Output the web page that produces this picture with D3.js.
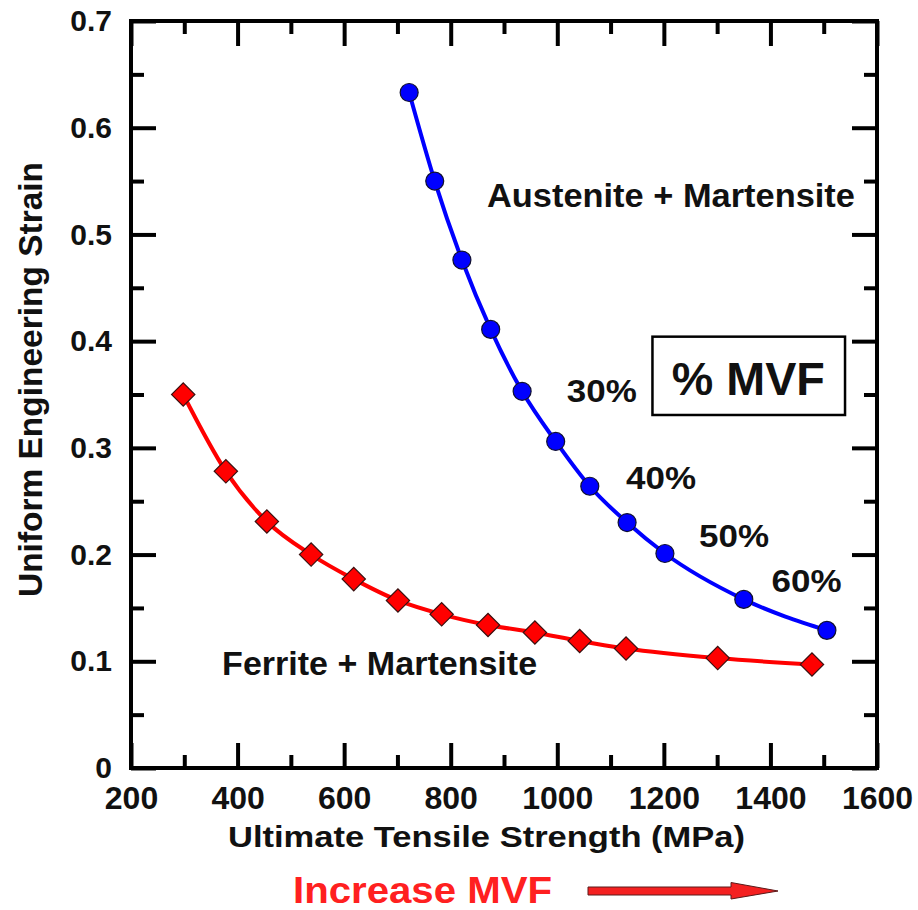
<!DOCTYPE html>
<html>
<head>
<meta charset="utf-8">
<script src="https://cdn.jsdelivr.net/npm/d3@7"></script>
<style>
  html, body { margin: 0; padding: 0; background: #fff; }
  svg { display: block; }
  text { font-family: "Liberation Sans", Arial, sans-serif; font-weight: bold; }
</style>
</head>
<body>
<svg id="chart" width="918" height="910"></svg>
<script>
// ---- data ----
const ferriteUTS    = [298, 378, 455, 538, 618, 701, 783, 870, 958, 1042, 1129, 1301, 1478];
const ferriteStrain = [0.350, 0.278, 0.231, 0.200, 0.177, 0.157, 0.144, 0.134, 0.127, 0.119, 0.112, 0.103, 0.097];
const austeniteUTS    = [722, 770, 821, 875, 934, 997, 1061, 1131, 1202, 1350, 1506];
const austeniteStrain = [0.633, 0.550, 0.476, 0.411, 0.353, 0.306, 0.264, 0.230, 0.201, 0.158, 0.129];
const xMajorTicks = [200, 400, 600, 800, 1000, 1200, 1400, 1600];
const xMinorTicks = [300, 500, 700, 900, 1100, 1300, 1500];
const yMajorTicks = [0, 0.1, 0.2, 0.3, 0.4, 0.5, 0.6, 0.7];
const yMinorTicks = [0.05, 0.15, 0.25, 0.35, 0.45, 0.55, 0.65];
const yTickLabels = ["0", "0.1", "0.2", "0.3", "0.4", "0.5", "0.6", "0.7"];
const pctLabels = ["30%", "40%", "50%", "60%"];
const pctX = [1018, 1129, 1266, 1402];
const pctY = [0.343, 0.261, 0.2074, 0.1652];

// ---- layout ----
const L = 131, R = 877, T = 21, B = 768;
const svg = d3.select("#chart");
const x = d3.scaleLinear().domain([200, 1600]).range([L, R]);
const y = d3.scaleLinear().domain([0, 0.7]).range([B, T]);

const MAJ = 25, MIN = 13;

function styleAxis(g) {
  g.select(".domain").remove();
  g.selectAll(".tick line").attr("stroke", "#000").attr("stroke-width", 4);
}

// bottom axis with labels
svg.append("g").attr("transform", `translate(0,${B})`)
  .call(d3.axisBottom(x).tickValues(xMajorTicks).tickSize(-MAJ).tickPadding(18).tickFormat(d3.format("d")))
  .call(styleAxis)
  .call(g => g.selectAll("text").attr("font-size", 32).attr("fill", "#111")
      .style("font-family", '"Liberation Sans", Arial, sans-serif').style("font-weight", "bold"));
svg.append("g").attr("transform", `translate(0,${B})`)
  .call(d3.axisBottom(x).tickValues(xMinorTicks).tickSize(-MIN).tickFormat(""))
  .call(styleAxis);
// top
svg.append("g").attr("transform", `translate(0,${T})`)
  .call(d3.axisTop(x).tickValues(xMajorTicks).tickSize(-MAJ).tickFormat(""))
  .call(styleAxis);
svg.append("g").attr("transform", `translate(0,${T})`)
  .call(d3.axisTop(x).tickValues(xMinorTicks).tickSize(-MIN).tickFormat(""))
  .call(styleAxis);
// left with labels
svg.append("g").attr("transform", `translate(${L},0)`)
  .call(d3.axisLeft(y).tickValues(yMajorTicks).tickSize(-MAJ).tickPadding(19)
        .tickFormat((d, i) => yTickLabels[i]))
  .call(styleAxis)
  .call(g => g.selectAll("text").attr("font-size", 30).attr("fill", "#111")
      .style("font-family", '"Liberation Sans", Arial, sans-serif').style("font-weight", "bold"));
svg.append("g").attr("transform", `translate(${L},0)`)
  .call(d3.axisLeft(y).tickValues(yMinorTicks).tickSize(-MIN).tickFormat(""))
  .call(styleAxis);
// right
svg.append("g").attr("transform", `translate(${R},0)`)
  .call(d3.axisRight(y).tickValues(yMajorTicks).tickSize(-MAJ).tickFormat(""))
  .call(styleAxis);
svg.append("g").attr("transform", `translate(${R},0)`)
  .call(d3.axisRight(y).tickValues(yMinorTicks).tickSize(-MIN).tickFormat(""))
  .call(styleAxis);

// frame
svg.append("rect").attr("x", L).attr("y", T).attr("width", R - L).attr("height", B - T)
  .attr("fill", "none").attr("stroke", "#000").attr("stroke-width", 4);

// ---- series ----
const ferrite = ferriteUTS.map((v, i) => [v, ferriteStrain[i]]);
const austenite = austeniteUTS.map((v, i) => [v, austeniteStrain[i]]);
const line = d3.line().x(d => x(d[0])).y(d => y(d[1])).curve(d3.curveMonotoneX);

svg.append("path").datum(ferrite).attr("d", line)
  .attr("fill", "none").attr("stroke", "#ff0000").attr("stroke-width", 4);
svg.append("path").datum(austenite).attr("d", line)
  .attr("fill", "none").attr("stroke", "#0000ff").attr("stroke-width", 4);

svg.append("g").selectAll("path").data(ferrite).join("path")
  .attr("d", d3.symbol(d3.symbolSquare, 272)())
  .attr("transform", d => `translate(${x(d[0])},${y(d[1])}) rotate(45)`)
  .attr("fill", "#ff0000").attr("stroke", "#3a1010").attr("stroke-width", 1.2);

svg.append("g").selectAll("circle").data(austenite).join("circle")
  .attr("cx", d => x(d[0])).attr("cy", d => y(d[1])).attr("r", 9)
  .attr("fill", "#0000ff").attr("stroke", "#101030").attr("stroke-width", 1.2);

// ---- annotations ----
svg.append("text").attr("x", x(868)).attr("y", y(0.526))
  .attr("font-size", 33).attr("textLength", 368).attr("lengthAdjust", "spacingAndGlyphs")
  .attr("fill", "#111").text("Austenite + Martensite");
svg.append("text").attr("x", x(371)).attr("y", y(0.0871))
  .attr("font-size", 33).attr("textLength", 315).attr("lengthAdjust", "spacingAndGlyphs")
  .attr("fill", "#111").text("Ferrite + Martensite");

svg.append("g").selectAll("text").data(pctLabels).join("text")
  .attr("x", (d, i) => x(pctX[i])).attr("y", (d, i) => y(pctY[i]))
  .attr("font-size", 32).attr("textLength", 70).attr("lengthAdjust", "spacingAndGlyphs")
  .attr("fill", "#111").text(d => d);

// % MVF box
svg.append("rect").attr("x", x(1178.6)).attr("y", y(0.4042))
  .attr("width", x(1540) - x(1178.6)).attr("height", y(0.3308) - y(0.4042))
  .attr("fill", "none").attr("stroke", "#000").attr("stroke-width", 2.5);
svg.append("text").attr("x", x(1215)).attr("y", y(0.3495))
  .attr("font-size", 47).attr("textLength", 153).attr("lengthAdjust", "spacingAndGlyphs")
  .attr("fill", "#111").text("% MVF");

// axis titles
svg.append("text").attr("x", 486.5).attr("y", 847).attr("text-anchor", "middle")
  .attr("font-size", 30).attr("textLength", 517).attr("lengthAdjust", "spacingAndGlyphs")
  .attr("fill", "#111").text("Ultimate Tensile Strength (MPa)");
svg.append("text").attr("transform", "translate(42,379.5) rotate(-90)").attr("text-anchor", "middle")
  .attr("font-size", 34).attr("textLength", 435).attr("lengthAdjust", "spacingAndGlyphs")
  .attr("fill", "#111").text("Uniform Engineering Strain");

// Increase MVF + arrow
svg.append("text").attr("x", 293).attr("y", 903)
  .attr("font-size", 36).attr("textLength", 259).attr("lengthAdjust", "spacingAndGlyphs")
  .attr("fill", "#ff2020").text("Increase MVF");
svg.append("path")
  .attr("d", "M588,887 L731,887 L731,882.5 L778,891 L731,899 L731,895 L588,895 Z")
  .attr("fill", "#f42020").attr("stroke", "#5a1a1a").attr("stroke-width", 1);
</script>
</body>
</html>
